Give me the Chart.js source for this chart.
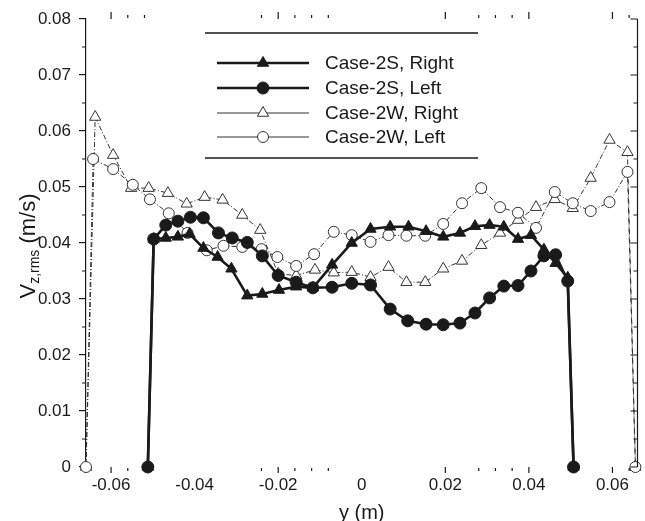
<!DOCTYPE html>
<html>
<head>
<meta charset="utf-8">
<script src="https://cdn.jsdelivr.net/npm/chart.js@4.4.1/dist/chart.umd.min.js"></script>
<style>
  html, body { margin: 0; padding: 0; background: #fff; }
  #wrap { width: 645px; height: 521px; }
</style>
</head>
<body>
<div id="wrap"><canvas id="chart" width="645" height="521"></canvas></div>
<script>
// axis ticks
const xTickValues = [-0.06, -0.04, -0.02, 0, 0.02, 0.04, 0.06];
const yTickValues = [0, 0.01, 0.02, 0.03, 0.04, 0.05, 0.06, 0.07, 0.08];
const yMinorValues = [0.005, 0.015, 0.025, 0.035, 0.045, 0.055, 0.065, 0.075];
// the top/bottom ticks that survive in the scan
const xEdgeMajor = [-0.06, -0.02, 0.02, 0.04, 0.06];
const xEdgeMinor = [-0.056, -0.052, -0.024, -0.016, -0.012, -0.008, 0.028, 0.032, 0.036, 0.064];

const seriesLabels = ['Case-2S, Right', 'Case-2S, Left', 'Case-2W, Right', 'Case-2W, Left'];

// Case-2S, Right (filled triangles)
const s2RightX = [-0.0512, -0.0498, -0.0469, -0.0440, -0.0412, -0.0379, -0.0345, -0.0312, -0.0274, -0.0238,
  -0.0198, -0.0157, -0.0117, -0.0071, -0.0024, 0.0021, 0.0068, 0.0112, 0.0154, 0.0195,
  0.0235, 0.0271, 0.0306, 0.0340, 0.0374, 0.0405, 0.0436, 0.0464, 0.0493, 0.0507];
const s2RightY = [0, 0.0407, 0.0409, 0.0411, 0.0416, 0.0391, 0.0375, 0.0354, 0.0306, 0.0309,
  0.0316, 0.0322, 0.0320, 0.0361, 0.0400, 0.0425, 0.0429, 0.0429, 0.0421, 0.0411,
  0.0418, 0.0430, 0.0432, 0.0429, 0.0407, 0.0414, 0.0388, 0.0364, 0.0338, 0];

// Case-2S, Left (filled circles)
const s2LeftX = [-0.0512, -0.0498, -0.0469, -0.0440, -0.0410, -0.0379, -0.0343, -0.0310, -0.0274, -0.0238,
  -0.0200, -0.0157, -0.0117, -0.0071, -0.0024, 0.0021, 0.0068, 0.0110, 0.0154, 0.0195,
  0.0235, 0.0271, 0.0306, 0.0340, 0.0374, 0.0405, 0.0436, 0.0464, 0.0493, 0.0507];
const s2LeftY = [0, 0.0407, 0.0432, 0.0439, 0.0446, 0.0445, 0.0418, 0.0409, 0.0401, 0.0377,
  0.0342, 0.0330, 0.0320, 0.0321, 0.0328, 0.0325, 0.0282, 0.0261, 0.0255, 0.0254,
  0.0257, 0.0275, 0.0302, 0.0323, 0.0324, 0.0350, 0.0377, 0.0379, 0.0332, 0];

// Case-2W, Right (open triangles)
const w2RightX = [-0.0660, -0.0638, -0.0595, -0.0552, -0.0510, -0.0464, -0.0419, -0.0376, -0.0333, -0.0286,
  -0.0243, -0.0200, -0.0157, -0.0112, -0.0067, -0.0024, 0.0021, 0.0064, 0.0107, 0.0152,
  0.0195, 0.0240, 0.0286, 0.0331, 0.0374, 0.0417, 0.0462, 0.0505, 0.0548, 0.0593,
  0.0636, 0.0655];
const w2RightY = [0, 0.0625, 0.0557, 0.0498, 0.0498, 0.0489, 0.0470, 0.0482, 0.0477, 0.0450,
  0.0423, 0.0345, 0.0342, 0.0352, 0.0347, 0.0348, 0.0339, 0.0357, 0.0330, 0.0330,
  0.0354, 0.0368, 0.0396, 0.0418, 0.0441, 0.0464, 0.0478, 0.0462, 0.0516, 0.0584,
  0.0562, 0];

// Case-2W, Left (open circles)
const w2LeftX = [-0.0660, -0.0643, -0.0595, -0.0548, -0.0507, -0.0462, -0.0417, -0.0371, -0.0331, -0.0286,
  -0.0240, -0.0202, -0.0157, -0.0114, -0.0067, -0.0024, 0.0021, 0.0064, 0.0107, 0.0152,
  0.0195, 0.0240, 0.0286, 0.0331, 0.0374, 0.0417, 0.0462, 0.0505, 0.0548, 0.0593,
  0.0636, 0.0655];
const w2LeftY = [0, 0.0550, 0.0532, 0.0504, 0.0478, 0.0453, 0.0418, 0.0387, 0.0395, 0.0393,
  0.0389, 0.0375, 0.0359, 0.0380, 0.0420, 0.0414, 0.0402, 0.0414, 0.0413, 0.0413,
  0.0434, 0.0471, 0.0498, 0.0464, 0.0454, 0.0427, 0.0491, 0.0471, 0.0457, 0.0473,
  0.0527, 0];

const FONT = "'Liberation Sans', Arial, sans-serif";
const INK = '#1a1a1a';

function pts(xs, ys) {
  return xs.map(function(x, i) { return { x: x, y: ys[i] }; });
}

// right axis, minor ticks and the partial top/bottom ticks
const frameTicks = {
  id: 'frameTicks',
  afterDraw(chart) {
    const ctx = chart.ctx;
    const a = chart.chartArea;
    const xs = chart.scales.x, ys = chart.scales.y;
    ctx.save();
    ctx.strokeStyle = INK;
    ctx.lineWidth = 1.2;
    ctx.beginPath();
    ctx.moveTo(a.right, a.top);
    ctx.lineTo(a.right, a.bottom);
    yTickValues.forEach(function(v) {
      const y = ys.getPixelForValue(v);
      ctx.moveTo(a.right, y); ctx.lineTo(a.right - 7, y);
    });
    yMinorValues.forEach(function(v) {
      const y = ys.getPixelForValue(v);
      ctx.moveTo(a.right, y); ctx.lineTo(a.right - 4, y);
      ctx.moveTo(a.left, y); ctx.lineTo(a.left - 4, y);
    });
    xEdgeMajor.forEach(function(v) {
      const x = xs.getPixelForValue(v);
      ctx.moveTo(x, a.top); ctx.lineTo(x, a.top - 7);
      ctx.moveTo(x, a.bottom); ctx.lineTo(x, a.bottom + 6);
    });
    xEdgeMinor.forEach(function(v) {
      const x = xs.getPixelForValue(v);
      ctx.moveTo(x, a.top - 1); ctx.lineTo(x, a.top - 4);
      ctx.moveTo(x, a.bottom + 1); ctx.lineTo(x, a.bottom + 4);
    });
    ctx.stroke();
    ctx.restore();
  }
};

// y title with subscript
const yTitle = {
  id: 'yTitle',
  afterDraw(chart) {
    const ctx = chart.ctx;
    const big = 22, small = 14;
    ctx.save();
    ctx.translate(35, 246);
    ctx.rotate(-Math.PI / 2);
    ctx.fillStyle = INK;
    ctx.textBaseline = 'alphabetic';
    ctx.font = big + 'px ' + FONT;
    const w1 = ctx.measureText('V').width;
    const w3 = ctx.measureText(' (m/s)').width;
    ctx.font = small + 'px ' + FONT;
    const w2 = ctx.measureText('z,rms').width;
    let x = -(w1 + w2 + w3) / 2;
    ctx.font = big + 'px ' + FONT;
    ctx.fillText('V', x, 0); x += w1;
    ctx.font = small + 'px ' + FONT;
    ctx.fillText('z,rms', x, 4); x += w2;
    ctx.font = big + 'px ' + FONT;
    ctx.fillText(' (m/s)', x, 0);
    ctx.restore();
  }
};

// boxed legend with line samples
const boxLegend = {
  id: 'boxLegend',
  afterDraw(chart) {
    const ctx = chart.ctx;
    const rows = [63, 88, 113, 137];
    ctx.save();
    ctx.strokeStyle = INK;
    ctx.lineWidth = 1.3;
    ctx.beginPath();
    ctx.moveTo(205, 33); ctx.lineTo(478, 33);
    ctx.moveTo(205, 158); ctx.lineTo(478, 158);
    ctx.stroke();
    chart.data.datasets.forEach(function(ds, i) {
      const y = rows[i];
      ctx.strokeStyle = ds.borderColor;
      ctx.lineWidth = ds.borderWidth;
      ctx.beginPath();
      ctx.moveTo(217, y); ctx.lineTo(309, y);
      ctx.stroke();
      ctx.fillStyle = ds.backgroundColor;
      ctx.strokeStyle = ds.borderColor;
      ctx.lineWidth = 1;
      ctx.beginPath();
      const r = ds.pointRadius;
      if (ds.pointStyle === 'triangle') {
        ctx.moveTo(263, y - r);
        ctx.lineTo(263 + r * 0.866, y + r * 0.5);
        ctx.lineTo(263 - r * 0.866, y + r * 0.5);
        ctx.closePath();
      } else {
        ctx.arc(263, y, r, 0, Math.PI * 2);
      }
      ctx.fill();
      ctx.stroke();
      ctx.fillStyle = INK;
      ctx.font = '19px ' + FONT;
      ctx.textBaseline = 'middle';
      ctx.fillText(seriesLabels[i], 325, y + 1);
    });
    ctx.restore();
  }
};

const ctx = document.getElementById('chart').getContext('2d');
new Chart(ctx, {
  type: 'scatter',
  data: {
    datasets: [
      {
        label: seriesLabels[0], data: pts(s2RightX, s2RightY), showLine: true,
        borderColor: INK, backgroundColor: INK, borderWidth: 2.6,
        pointStyle: 'triangle', pointRadius: 6.5, pointBorderWidth: 1, order: 2
      },
      {
        label: seriesLabels[1], data: pts(s2LeftX, s2LeftY), showLine: true,
        borderColor: INK, backgroundColor: INK, borderWidth: 2.6,
        pointStyle: 'circle', pointRadius: 6, pointBorderWidth: 1, order: 1
      },
      {
        label: seriesLabels[2], data: pts(w2RightX, w2RightY), showLine: true,
        borderColor: '#333', backgroundColor: '#fff', borderWidth: 1, borderDash: [5, 2, 1, 2],
        pointStyle: 'triangle', pointRadius: 6.5, pointBorderWidth: 1, order: 4
      },
      {
        label: seriesLabels[3], data: pts(w2LeftX, w2LeftY), showLine: true,
        borderColor: '#333', backgroundColor: '#fff', borderWidth: 1, borderDash: [5, 2, 1, 2],
        pointStyle: 'circle', pointRadius: 5.5, pointBorderWidth: 1, order: 3
      }
    ]
  },
  options: {
    responsive: false,
    animation: false,
    devicePixelRatio: 1,
    layout: { padding: { top: 19, right: 5, left: 0, bottom: 0 } },
    elements: { line: { tension: 0 } },
    datasets: { scatter: { clip: false } },
    plugins: {
      legend: { display: false },
      tooltip: { enabled: false }
    },
    scales: {
      x: {
        type: 'linear', min: -0.066, max: 0.066,
        afterBuildTicks: function(scale) {
          scale.ticks = xTickValues.map(function(v) { return { value: v }; });
        },
        afterFit: function(scale) { scale.height = 54; },
        grid: { display: false, drawTicks: false },
        border: { display: false },
        ticks: {
          padding: 8, color: INK, font: { family: FONT, size: 17 },
          maxRotation: 0,
          callback: function(v) { return v === 0 ? '0' : v.toFixed(2); }
        },
        title: {
          display: true, text: 'y (m)', color: INK,
          font: { family: FONT, size: 20, lineHeight: 0.8 }, padding: 0
        }
      },
      y: {
        type: 'linear', min: 0, max: 0.08,
        afterBuildTicks: function(scale) {
          scale.ticks = yTickValues.map(function(v) { return { value: v }; });
        },
        afterFit: function(scale) { scale.width = 86; },
        grid: { drawOnChartArea: false, drawTicks: true, tickLength: 7, color: INK, lineWidth: 1.2 },
        border: { display: true, color: INK, width: 1.2 },
        ticks: {
          padding: 8, color: INK, font: { family: FONT, size: 17 },
          callback: function(v) { return v === 0 ? '0' : v.toFixed(2); }
        }
      }
    }
  },
  plugins: [frameTicks, yTitle, boxLegend]
});
</script>
</body>
</html>
